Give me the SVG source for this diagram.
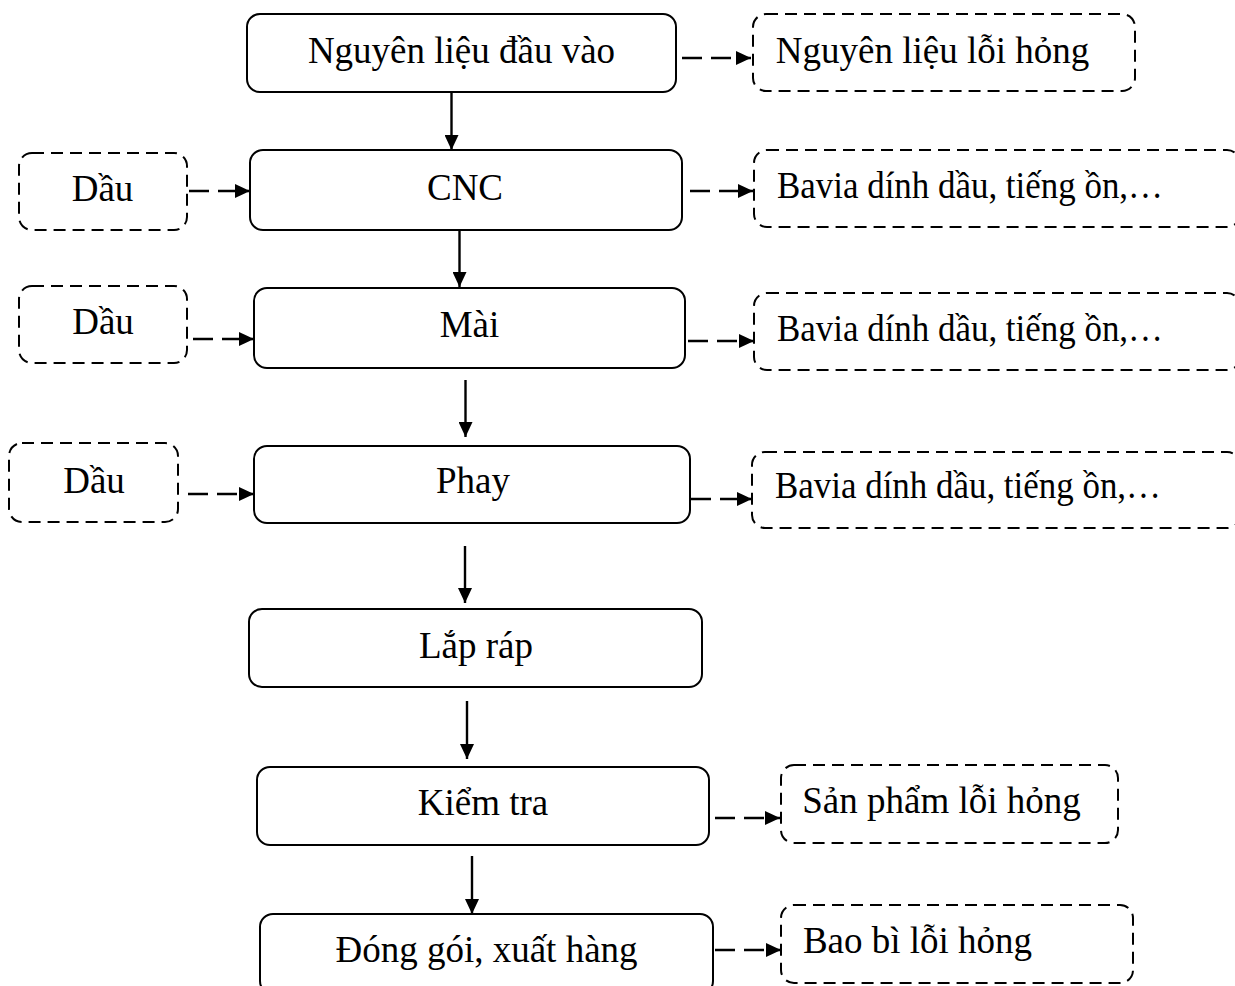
<svg xmlns="http://www.w3.org/2000/svg" width="1235" height="986" viewBox="0 0 1235 986">
<defs>
<style>
.box{fill:#fff;stroke:#000;stroke-width:2}
.dbox{fill:#fff;stroke:#000;stroke-width:2;stroke-dasharray:12 7}
.t{font-family:"Liberation Serif","Times New Roman",serif;font-size:37px;fill:#000}
.m{text-anchor:middle}
.c{stroke:#000;stroke-width:2.4;fill:none}
.d{stroke-dasharray:20 9}
</style>
<marker id="ah" markerUnits="userSpaceOnUse" markerWidth="15" markerHeight="14" refX="15" refY="7" orient="auto">
<path d="M0,0 L15,7 L0,14 Z" fill="#000"/>
</marker>
</defs>
<rect width="1235" height="986" fill="#fff"/>

<g id="connectors">
<line class="c" x1="451.5" y1="92" x2="451.5" y2="150" marker-end="url(#ah)"/>
<line class="c" x1="459.5" y1="230" x2="459.5" y2="287" marker-end="url(#ah)"/>
<line class="c" x1="465.5" y1="380" x2="465.5" y2="437" marker-end="url(#ah)"/>
<line class="c" x1="465" y1="546" x2="465" y2="603" marker-end="url(#ah)"/>
<line class="c" x1="467" y1="701" x2="467" y2="759" marker-end="url(#ah)"/>
<line class="c" x1="472" y1="856" x2="472" y2="914" marker-end="url(#ah)"/>
<line class="c d" x1="682" y1="58" x2="751" y2="58" marker-end="url(#ah)"/>
<line class="c d" x1="690" y1="191" x2="753" y2="191" marker-end="url(#ah)"/>
<line class="c d" x1="688" y1="341" x2="754" y2="341" marker-end="url(#ah)"/>
<line class="c d" x1="691" y1="499" x2="752" y2="499" marker-end="url(#ah)"/>
<line class="c d" x1="715" y1="818" x2="780" y2="818" marker-end="url(#ah)"/>
<line class="c d" x1="715" y1="950" x2="781" y2="950" marker-end="url(#ah)"/>
<line class="c d" x1="189" y1="191" x2="250" y2="191" marker-end="url(#ah)"/>
<line class="c d" x1="193" y1="339" x2="254" y2="339" marker-end="url(#ah)"/>
<line class="c d" x1="188" y1="494" x2="254" y2="494" marker-end="url(#ah)"/>
</g>

<g id="n-input"><rect class="box" x="247" y="14" width="429" height="78" rx="13"/><text class="t m" x="461.5" y="63">Nguyên liệu đầu vào</text></g>
<g id="n-input-waste"><rect class="dbox" x="753" y="14" width="382" height="77" rx="13"/><text class="t m" x="932.5" y="63">Nguyên liệu lỗi hỏng</text></g>

<g id="n-oil1"><rect class="dbox" x="19" y="153" width="168" height="77" rx="13"/><text class="t m" x="102.5" y="201">Dầu</text></g>
<g id="n-cnc"><rect class="box" x="250" y="150" width="432" height="80" rx="13"/><text class="t m" x="465" y="200">CNC</text></g>
<g id="n-cnc-waste"><rect class="dbox" x="754" y="150" width="486" height="77" rx="13"/><text class="t" x="777" y="198" textLength="386" lengthAdjust="spacingAndGlyphs">Bavia dính dầu, tiếng ồn,…</text></g>

<g id="n-oil2"><rect class="dbox" x="19" y="286" width="168" height="77" rx="13"/><text class="t m" x="103" y="334">Dầu</text></g>
<g id="n-mai"><rect class="box" x="254" y="288" width="431" height="80" rx="13"/><text class="t m" x="469.5" y="337">Mài</text></g>
<g id="n-mai-waste"><rect class="dbox" x="754" y="293" width="486" height="77" rx="13"/><text class="t" x="777" y="341" textLength="386" lengthAdjust="spacingAndGlyphs">Bavia dính dầu, tiếng ồn,…</text></g>

<g id="n-oil3"><rect class="dbox" x="9" y="443" width="169" height="79" rx="13"/><text class="t m" x="94" y="493">Dầu</text></g>
<g id="n-phay"><rect class="box" x="254" y="446" width="436" height="77" rx="13"/><text class="t m" x="473" y="493">Phay</text></g>
<g id="n-phay-waste"><rect class="dbox" x="752" y="452" width="488" height="76" rx="13"/><text class="t" x="775" y="498" textLength="386" lengthAdjust="spacingAndGlyphs">Bavia dính dầu, tiếng ồn,…</text></g>

<g id="n-assembly"><rect class="box" x="249" y="609" width="453" height="78" rx="13"/><text class="t m" x="476" y="658">Lắp ráp</text></g>

<g id="n-check"><rect class="box" x="257" y="767" width="452" height="78" rx="13"/><text class="t m" x="483" y="815">Kiểm tra</text></g>
<g id="n-check-waste"><rect class="dbox" x="781" y="765" width="337" height="78" rx="13"/><text class="t m" x="941.5" y="813">Sản phẩm lỗi hỏng</text></g>

<g id="n-pack"><rect class="box" x="260" y="914" width="453" height="80" rx="13"/><text class="t m" x="486.5" y="962">Đóng gói, xuất hàng</text></g>
<g id="n-pack-waste"><rect class="dbox" x="781" y="905" width="352" height="78" rx="13"/><text class="t m" x="917.5" y="953">Bao bì lỗi hỏng</text></g>
</svg>
